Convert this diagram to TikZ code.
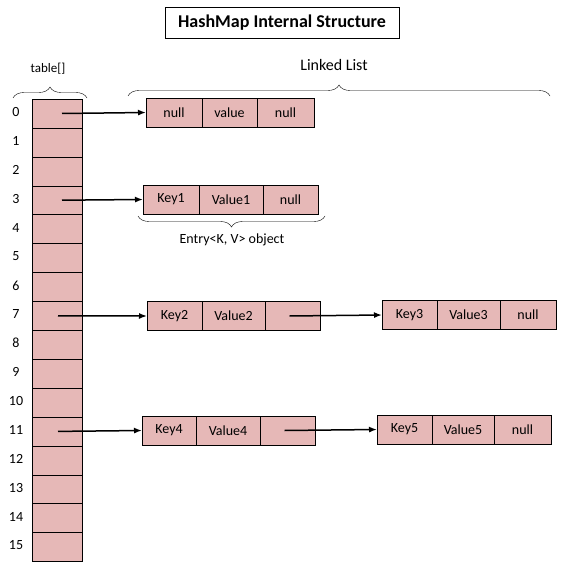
\documentclass[tikz,border=0pt]{standalone}
\usepackage{fontspec}
\setmainfont{Carlito}
\usetikzlibrary{positioning,decorations.pathreplacing,arrows.meta}
\definecolor{cellpink}{RGB}{230,184,183}

\tikzset{
  cell/.style={draw, fill=cellpink, inner sep=0pt, outer sep=0pt, minimum height=29pt,
    font=\fontsize{14}{16}\selectfont},
  ptr/.style={-{Latex[length=8pt,width=6pt]}, line width=1.5pt},
  curly/.style={decorate, decoration={brace, amplitude=11pt}, thin},
  lbl/.style={font=\fontsize{14}{16}\selectfont, inner sep=1pt}
}

\begin{document}
\begin{tikzpicture}[x=1pt, y=-1pt]
  \useasboundingbox (0,0) rectangle (567,567);

  % title
  \node[draw, minimum width=234pt, minimum height=31pt, font=\fontsize{18}{20}\bfseries] (title) at (282,22.5) {HashMap Internal Structure};

  % table[] and its buckets
  \foreach \i in {0,...,15} {
    \node[cell, minimum width=50pt, minimum height=28.9pt] (t\i) at (57,{113.5+28.9*\i}) {};
    \node[lbl] (n\i) at (16,{112+28.9*\i}) {\i};
  }
  \draw[curly] (13,98) -- (87,98);
  \node[lbl, font=\fontsize{13}{15}\selectfont] (tbl) at (48,69) {table[]};

  % linked list brace
  \draw[curly] (128,96) -- (550,96);
  \node[lbl, font=\fontsize{16}{18}\selectfont] (ll) at (334,65) {Linked List};

  % bucket 0
  \node[cell, minimum width=56pt, anchor=west] (k0) at (146,112.5) {null};
  \node[cell, minimum width=55pt, right=0pt of k0] (v0) {value};
  \node[cell, minimum width=57pt, right=0pt of v0] (x0) {null};

  % bucket 3
  \node[cell, minimum width=56pt, anchor=west] (k1) at (143,199.5) {Key1};
  \node[cell, minimum width=64pt, right=0pt of k1] (v1) {Value1};
  \node[cell, minimum width=55pt, right=0pt of v1] (x1) {null};
  \draw[curly] (325,216) -- (138,216);
  \node[lbl] (ent) at (232,240) {Entry<K, V> object};

  % bucket 7
  \node[cell, minimum width=55pt, anchor=west] (k2) at (147,316) {Key2};
  \node[cell, minimum width=63pt, right=0pt of k2] (v2) {Value2};
  \node[cell, minimum width=55pt, right=0pt of v2] (x2) {};
  \node[cell, minimum width=55pt, anchor=west] (k3) at (382,315) {Key3};
  \node[cell, minimum width=63pt, right=0pt of k3] (v3) {Value3};
  \node[cell, minimum width=56pt, right=0pt of v3] (x3) {null};

  % bucket 11
  \node[cell, minimum width=54pt, anchor=west] (k4) at (142,430.5) {Key4};
  \node[cell, minimum width=64pt, right=0pt of k4] (v4) {Value4};
  \node[cell, minimum width=55pt, right=0pt of v4] (x4) {};
  \node[cell, minimum width=55pt, anchor=west] (k5) at (377,429.5) {Key5};
  \node[cell, minimum width=62pt, right=0pt of k5] (v5) {Value5};
  \node[cell, minimum width=57pt, right=0pt of v5] (x5) {null};

  % pointers
  \draw[ptr] ([xshift=5pt]t0.center) -- (k0.west);
  \draw[ptr] ([xshift=5pt]t3.center) -- (k1.west);
  \draw[ptr] ([xshift=1pt]t7.center) -- (k2.west);
  \draw[ptr] ([xshift=1pt]t11.center) -- (k4.west);
  \draw[ptr] ([xshift=-3pt]x2.center) -- (k3.west);
  \draw[ptr] ([xshift=-3pt]x4.center) -- (k5.west);
\end{tikzpicture}
\end{document}
